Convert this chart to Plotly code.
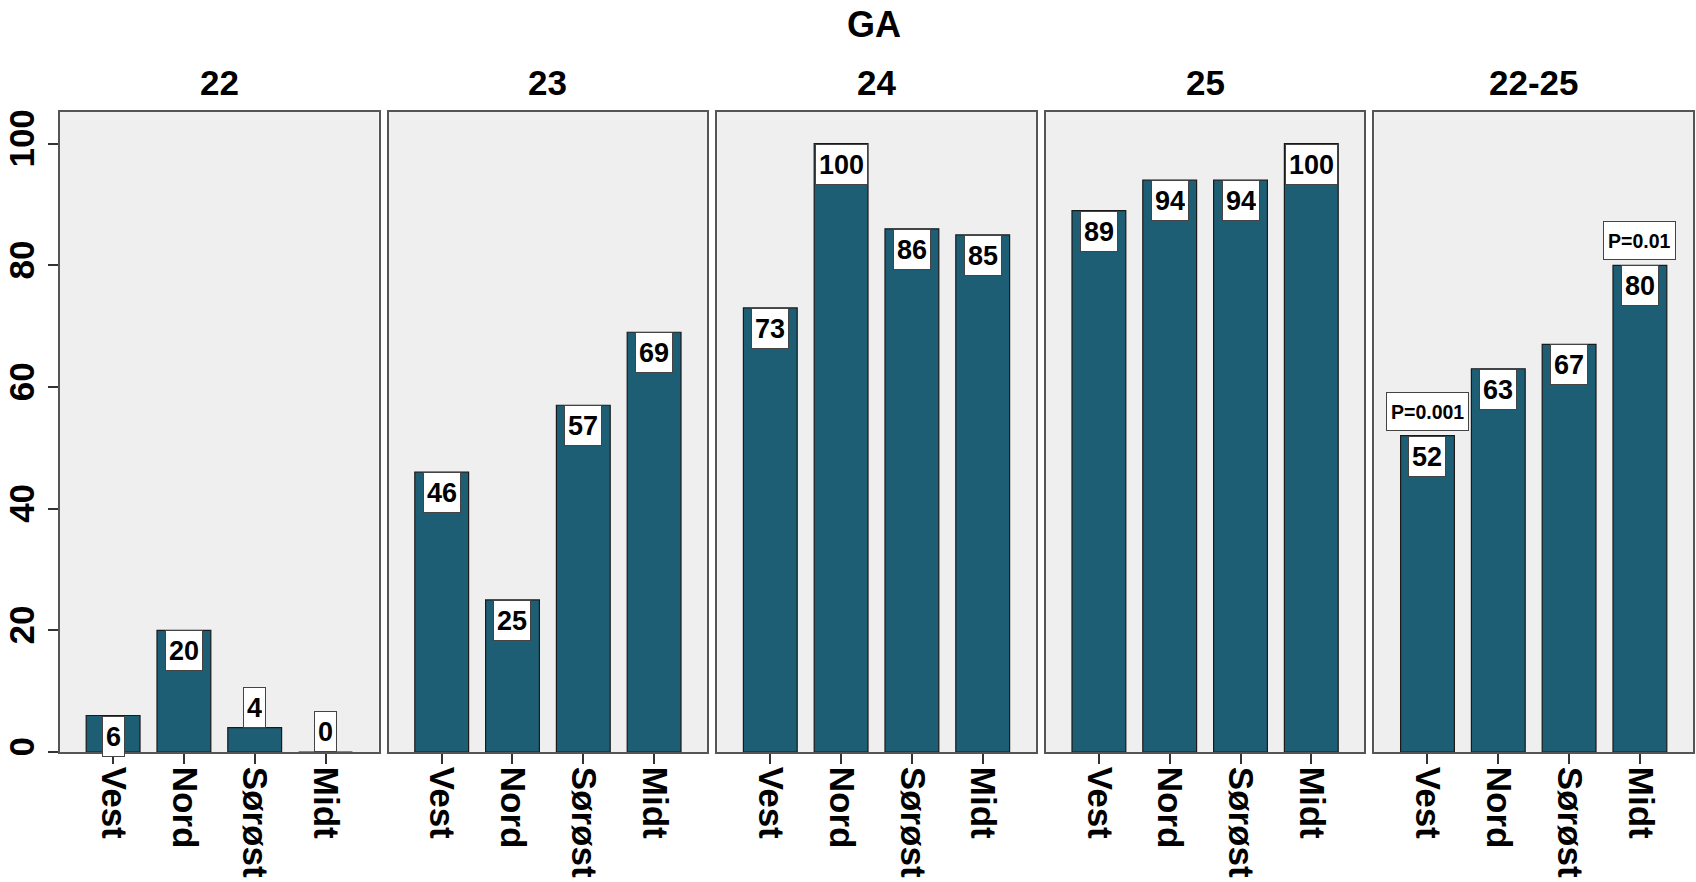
import plotly.graph_objects as go

panels = ['22', '23', '24', '25', '22-25']
regions = ['Vest', 'Nord', 'Sørøst', 'Midt']
values = {
    '22': [6, 20, 4, 0],
    '23': [46, 25, 57, 69],
    '24': [73, 100, 86, 85],
    '25': [89, 94, 94, 100],
    '22-25': [52, 63, 67, 80],
}
p_labels = {'22-25': ['P=0.001', '', '', 'P=0.01']}
y_ticks = [0, 20, 40, 60, 80, 100]
title = 'GA'

FONT = 'Liberation Sans, Arial, sans-serif'
BAR = '#1d5e75'
W, H = 1696, 882
ML, MR, MT, MB = 60, 1, 112, 130
plot_w = W - ML - MR
panel_w, gap = 319, 10
YMAX = 105.2

fig = go.Figure()
annotations = []
for k, p in enumerate(panels):
    x0 = k * (panel_w + gap) / plot_w
    x1 = min(1.0, (k * (panel_w + gap) + panel_w) / plot_w)
    sfx = '' if k == 0 else str(k + 1)
    xa, ya = 'x' + sfx, 'y' + sfx
    fig.add_trace(go.Bar(
        x=regions, y=values[p], xaxis=xa, yaxis=ya,
        marker=dict(color=BAR, line=dict(color='#1a1a1a', width=1.2)),
        width=0.76, showlegend=False, hoverinfo='skip'))
    fig.layout['xaxis' + sfx] = dict(
        domain=[x0, x1], anchor=ya, range=[-0.75, 3.75],
        type='category', categoryorder='array', categoryarray=regions,
        showline=True, mirror=True, linecolor='#555555', linewidth=1.5,
        ticks='outside', ticklen=10, tickcolor='#333333', tickwidth=1.5,
        ticklabelstandoff=-4,
        tickangle=90, tickfont=dict(family=FONT, size=35, color='black', weight='bold'),
        showgrid=False, zeroline=False, fixedrange=True)
    fig.layout['yaxis' + sfx] = dict(
        domain=[0, 1], anchor=xa, range=[0, YMAX],
        tickvals=y_ticks, showticklabels=(k == 0),
        ticks='outside' if k == 0 else '', ticklen=10, tickcolor='#333333', tickwidth=1.5,
        tickangle=-90, tickfont=dict(family=FONT, size=35, color='black', weight='bold'),
        showline=True, mirror=True, linecolor='#555555', linewidth=1.5,
        showgrid=False, zeroline=False, fixedrange=True)
    # panel title
    annotations.append(dict(
        text=p, xref='paper', yref='paper', x=(x0 + x1) / 2, y=1 + 29 / (H - MT - MB),
        xanchor='center', yanchor='middle', showarrow=False,
        font=dict(family=FONT, size=35, color='black', weight='bold')))
    # value labels
    for i, (r, v) in enumerate(zip(regions, values[p])):
        inside = v >= 5
        annotations.append(dict(
            text=str(v), xref=xa, yref=ya, x=r, y=v,
            xanchor='center', yanchor='top' if inside else 'bottom',
            showarrow=False, bgcolor='white', bordercolor='#444444', borderwidth=1,
            borderpad=3, height=33,
            font=dict(family=FONT, size=27, color='black', weight='bold')))
        pl = p_labels.get(p)
        if pl and pl[i]:
            annotations.append(dict(
                text=pl[i], xref=xa, yref=ya, x=r, y=v, yshift=5,
                xanchor='center', yanchor='bottom',
                showarrow=False, bgcolor='white', bordercolor='#444444', borderwidth=1,
                borderpad=4, height=29,
                font=dict(family=FONT, size=19.5, color='black', weight='bold')))

annotations.append(dict(
    text=title, xref='paper', yref='paper', x=0.5 - 3 / plot_w,
    y=1 + (MT - 24) / (H - MT - MB), xanchor='center', yanchor='middle', showarrow=False,
    font=dict(family=FONT, size=36, color='black', weight='bold')))

fig.update_layout(
    width=W, height=H, margin=dict(l=ML, r=MR, t=MT, b=MB),
    paper_bgcolor='white', plot_bgcolor='#efefef',
    annotations=annotations, font=dict(family=FONT))
fig.write_html('out.html', config={'displayModeBar': False})
